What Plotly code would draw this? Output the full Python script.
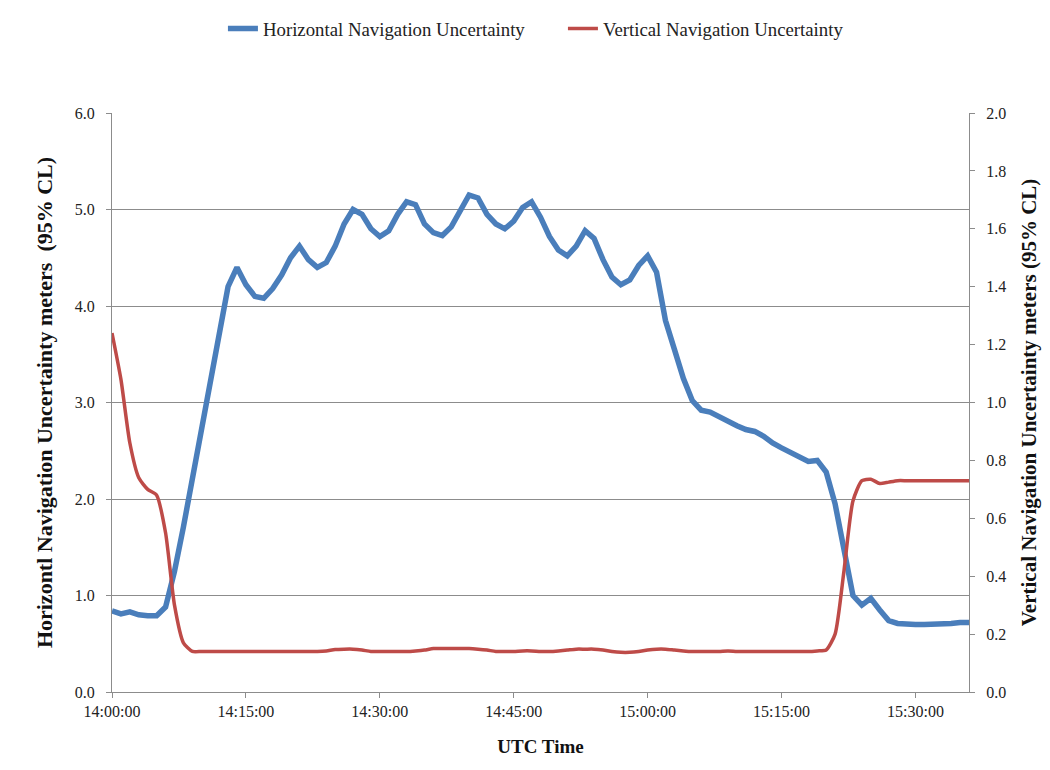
import pandas as pd
import plotly.graph_objects as go

# minutes after 14:00:00 UTC
minutes = list(range(0, 97))

horizontal_m = [
    0.84, 0.81, 0.83, 0.80, 0.79, 0.79, 0.88, 1.25, 1.71, 2.22,
    2.72, 3.20, 3.70, 4.20, 4.40, 4.22, 4.10, 4.08, 4.18, 4.32,
    4.50, 4.62, 4.48, 4.40, 4.45, 4.62, 4.85, 5.00, 4.95, 4.80,
    4.72, 4.78, 4.95, 5.08, 5.05, 4.85, 4.76, 4.73, 4.82, 4.98,
    5.15, 5.12, 4.95, 4.85, 4.80, 4.88, 5.02, 5.08, 4.92, 4.72,
    4.58, 4.52, 4.62, 4.78, 4.70, 4.48, 4.30, 4.22, 4.27, 4.42,
    4.52, 4.35, 3.85, 3.55, 3.25, 3.02, 2.92, 2.90, 2.85, 2.80,
    2.76, 2.72, 2.70, 2.65, 2.58, 2.53, 2.48, 2.43, 2.39, 2.40,
    2.28, 1.95, 1.45, 1.00, 0.90, 0.97, 0.85, 0.74, 0.71, 0.70,
    0.70, 0.70, 0.70, 0.71, 0.71, 0.72, 0.72,
]

vertical_m = [
    1.24, 1.08, 0.86, 0.74, 0.70, 0.68, 0.55, 0.30, 0.17, 0.14,
    0.14, 0.14, 0.14, 0.14, 0.14, 0.14, 0.14, 0.14, 0.14, 0.14,
    0.14, 0.14, 0.14, 0.14, 0.142, 0.147, 0.148, 0.148, 0.145, 0.14,
    0.14, 0.14, 0.14, 0.14, 0.142, 0.145, 0.15, 0.15, 0.15, 0.15,
    0.15, 0.148, 0.145, 0.14, 0.14, 0.14, 0.142, 0.142, 0.14, 0.14,
    0.142, 0.145, 0.148, 0.148, 0.148, 0.145, 0.14, 0.137, 0.137, 0.14,
    0.145, 0.148, 0.148, 0.145, 0.142, 0.14, 0.14, 0.14, 0.14, 0.142,
    0.14, 0.14, 0.14, 0.14, 0.14, 0.14, 0.14, 0.14, 0.14, 0.142,
    0.145, 0.20, 0.42, 0.66, 0.73, 0.735, 0.72, 0.725, 0.73, 0.73,
    0.73, 0.73, 0.73, 0.73, 0.73, 0.73, 0.73,
]

x_tick_labels = ["14:00:00", "14:15:00", "14:30:00", "14:45:00",
                 "15:00:00", "15:15:00", "15:30:00"]

base = pd.Timestamp("2012-01-01 14:00:00")
times = [base + pd.Timedelta(minutes=m) for m in minutes]
tickvals = [pd.Timestamp("2012-01-01 " + s) for s in x_tick_labels]

BLUE = "#4A7EBB"
RED = "#BE4B48"
FONT = "Liberation Serif"
GRID = "#8C8C8C"
TXT = "#222222"

fig = go.Figure()
fig.add_trace(go.Scatter(
    x=times, y=horizontal_m, mode="lines", name="Horizontal Navigation Uncertainty",
    line=dict(color=BLUE, width=5.5), yaxis="y"))
fig.add_trace(go.Scatter(
    x=times, y=vertical_m, mode="lines", name="Vertical Navigation Uncertainty",
    line=dict(color=RED, width=3.5, shape="spline", smoothing=0.6), yaxis="y2"))

fig.update_layout(
    width=1050, height=770,
    paper_bgcolor="white", plot_bgcolor="white",
    font=dict(family=FONT, color=TXT, size=16),
    margin=dict(l=104, r=89, t=105, b=86, autoexpand=False),
    legend=dict(orientation="h", x=0.2047, xanchor="left", xref="container",
                y=0.973, yanchor="middle", yref="container",
                entrywidth=295, entrywidthmode="pixels",
                font=dict(family=FONT, size=18.8, color=TXT),
                tracegroupgap=0),
    xaxis=dict(
        range=[base, base + pd.Timedelta(minutes=96)],
        tickvals=tickvals, ticktext=x_tick_labels,
        showgrid=False, showline=True, linecolor=GRID, linewidth=1,
        ticks="outside", ticklen=5, tickcolor=GRID,
        tickfont=dict(family=FONT, size=16, color=TXT),
        title=dict(text="<b>UTC Time</b>", font=dict(family=FONT, size=19, color="#111111"),
                   standoff=20),
        zeroline=False, automargin=False,
    ),
    yaxis=dict(
        range=[0, 6], dtick=1, tickformat=".1f",
        showgrid=True, gridcolor=GRID, gridwidth=1,
        showline=True, linecolor=GRID, linewidth=1,
        ticks="outside", ticklen=5, tickcolor=GRID,
        ticklabelstandoff=8,
        tickfont=dict(family=FONT, size=16, color=TXT),
        title=dict(text="<b>Horizontl Navigation Uncertainty meters  (95% CL)</b>",
                   font=dict(family=FONT, size=22, color="#111111"), standoff=16),
        zeroline=False, automargin=False,
    ),
    yaxis2=dict(
        range=[0, 2], dtick=0.2, tickformat=".1f", overlaying="y", side="right",
        showgrid=False, showline=True, linecolor=GRID, linewidth=1,
        ticks="outside", ticklen=5, tickcolor=GRID,
        ticklabelstandoff=8,
        tickfont=dict(family=FONT, size=16, color=TXT),
        title=dict(text="<b>Vertical Navigation Uncertainty meters (95% CL)</b>",
                   font=dict(family=FONT, size=21, color="#111111"), standoff=16),
        zeroline=False, automargin=False,
    ),
)

fig.write_html("out.html")
